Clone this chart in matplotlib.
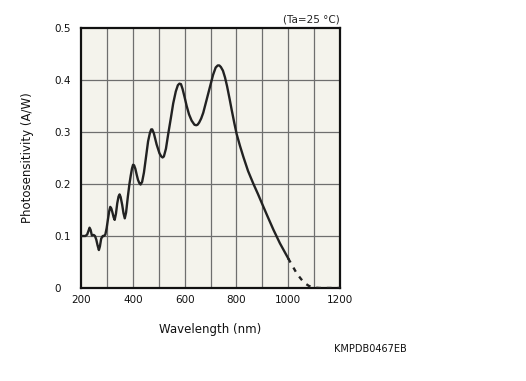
import matplotlib
matplotlib.use("Agg")
import matplotlib.pyplot as plt

# Solid part of the photosensitivity curve (nm, A/W)
wl_solid = [200, 210, 217, 224, 229, 233, 237, 242, 249, 254, 259, 264, 269, 273, 278, 284, 289, 294,
            299, 304, 309, 313, 317, 321, 326, 330, 335, 340, 345, 349, 353, 359, 364, 369, 374, 381,
            387, 392, 397, 401, 405, 410, 415, 420, 425, 430, 436, 443, 450, 459, 466, 471, 475, 481,
            492, 503, 510, 515, 520, 528, 537, 547, 556, 566, 574, 580, 586, 592, 600, 608, 617, 627,
            638, 645, 650, 656, 664, 672, 684, 698, 710, 720, 728, 734, 740, 748, 756, 764, 774, 782,
            792, 801, 814, 827, 845, 865, 883, 901, 920, 943, 968, 1000]
val_solid = [0.100, 0.100, 0.100, 0.103, 0.110, 0.116, 0.112, 0.101, 0.102, 0.100, 0.093, 0.082, 0.073, 0.080,
             0.095, 0.100, 0.100, 0.103, 0.115, 0.132, 0.148, 0.156, 0.153, 0.146, 0.136, 0.131, 0.143, 0.163,
             0.176, 0.180, 0.175, 0.160, 0.144, 0.134, 0.145, 0.176, 0.200, 0.216, 0.230, 0.237, 0.236, 0.229,
             0.218, 0.208, 0.202, 0.199, 0.204, 0.222, 0.248, 0.282, 0.298, 0.305, 0.305, 0.298, 0.276, 0.259,
             0.253, 0.251, 0.253, 0.268, 0.297, 0.327, 0.355, 0.378, 0.390, 0.393, 0.392, 0.383, 0.367, 0.350,
             0.334, 0.322, 0.314, 0.313, 0.314, 0.318, 0.326, 0.337, 0.360, 0.387, 0.410, 0.424, 0.428, 0.428,
             0.425, 0.418, 0.405, 0.388, 0.363, 0.342, 0.317, 0.296, 0.273, 0.252, 0.225, 0.201, 0.181, 0.160,
             0.138, 0.112, 0.086, 0.057]
# Dashed extrapolated tail
wl_dash = [1000, 1017, 1033, 1050, 1065, 1080, 1097, 1120, 1150, 1200]
val_dash = [0.057, 0.042, 0.028, 0.017, 0.009, 0.004, 0.001, 0.0, 0.0, 0.0]

x_ticks = [200, 400, 600, 800, 1000, 1200]
y_ticks = [0, 0.1, 0.2, 0.3, 0.4, 0.5]
y_tick_labels = ["0", "0.1", "0.2", "0.3", "0.4", "0.5"]

fig = plt.figure(figsize=(5.26, 3.81), dpi=100)
ax = fig.add_axes([81/526, 1 - 288/381, (340-81)/526, (288-28)/381])
ax.set_facecolor("#f4f3ec")

for xv in range(300, 1200, 100):
    ax.axvline(xv, color="#6e6e6e", lw=0.9, zorder=1)
for yv in [0.1, 0.2, 0.3, 0.4]:
    ax.axhline(yv, color="#6e6e6e", lw=0.9, zorder=1)

ax.plot(wl_solid, val_solid, color="#222222", lw=1.7, solid_joinstyle="round", zorder=3)
ax.plot(wl_dash, val_dash, color="#222222", lw=1.7, linestyle=(0, (2, 2.5)), zorder=3)

ax.set_xlim(200, 1200)
ax.set_ylim(0, 0.5)
ax.set_xticks(x_ticks)
ax.set_yticks(y_ticks)
ax.set_yticklabels(y_tick_labels)
ax.tick_params(axis="both", length=0, labelsize=7.5, colors="#111111")
ax.tick_params(axis="x", pad=5)
ax.tick_params(axis="y", pad=19)
for lab in ax.get_yticklabels():
    lab.set_horizontalalignment("left")

for sp in ax.spines.values():
    sp.set_linewidth(1.6)
    sp.set_color("#111111")

fig.text(340/526, 1 - 20/381, "(Ta=25 °C)", ha="right", va="center", fontsize=7.5, color="#222222")
fig.text(210/526, 1 - 330/381, "Wavelength (nm)", ha="center", va="center", fontsize=8.5, color="#111111")
fig.text(28/526, 1 - 158/381, "Photosensitivity (A/W)", ha="center", va="center", rotation=90,
         fontsize=8.5, color="#111111")
fig.text(370/526, 1 - 349/381, "KMPDB0467EB", ha="center", va="center", fontsize=7, color="#111111")

fig.savefig("out.png", dpi=100)
